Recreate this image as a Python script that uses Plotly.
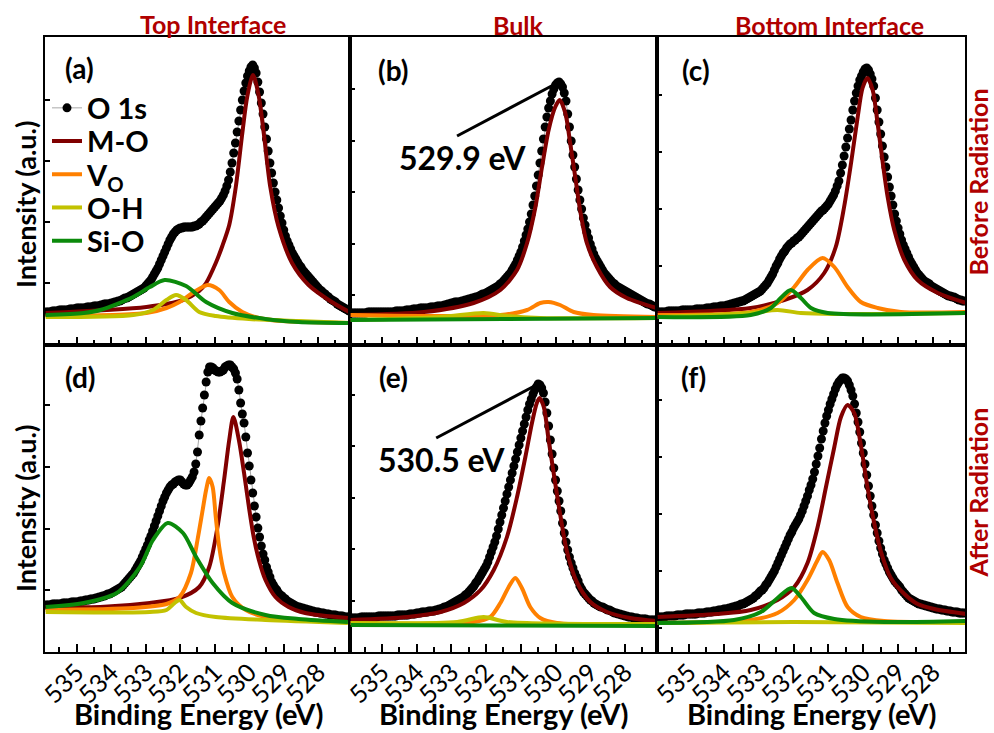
import numpy as np
import plotly.graph_objects as go

# ---------------------------------------------------------------------------
# Binding-energy grid of the measured O 1s spectra (eV), high -> low
BE_START, BE_STEP, N_PTS = 535.9, 0.05, 177
be = np.round(BE_START - BE_STEP * np.arange(N_PTS), 2)

# Measured O 1s intensity (a.u.) for each interface / radiation state
o1s_top_before = [
    31, 31, 31, 31, 32, 32, 32, 32, 33, 33, 33, 33, 33, 33, 34, 34, 34, 34, 35, 35,
    35, 35, 35, 35, 36, 36, 36, 36, 37, 37, 37, 37, 38, 38, 39, 39, 39, 39, 40, 40,
    41, 41, 42, 42, 43, 44, 45, 45, 46, 47, 48, 49, 50, 51, 52, 53, 54, 55, 57, 59,
    61, 63, 66, 69, 72, 75, 79, 83, 87, 91, 95, 99, 103, 106, 109, 111, 113, 114, 115, 115,
    116, 116, 116, 116, 116, 116, 117, 117, 118, 119, 121, 122, 124, 126, 128, 130, 132, 134, 136, 138,
    140, 142, 145, 148, 152, 157, 163, 171, 180, 190, 200, 211, 222, 233, 243, 252, 260, 267, 272, 276,
    278, 275, 270, 261, 251, 240, 229, 216, 204, 192, 180, 170, 160, 151, 143, 135, 127, 120, 113, 107,
    102, 98, 94, 90, 87, 84, 81, 78, 76, 73, 71, 69, 67, 65, 63, 61, 59, 57, 55, 53,
    52, 50, 49, 47, 46, 44, 43, 42, 41, 39, 38, 37, 36, 35, 34, 33, 32]
o1s_bulk_before = [
    30, 30, 30, 30, 30, 30, 30, 30, 30, 30, 31, 31, 31, 31, 31, 31, 31, 31, 31, 31,
    31, 31, 31, 31, 31, 31, 32, 32, 32, 32, 32, 32, 33, 33, 33, 33, 34, 34, 34, 34,
    35, 35, 35, 35, 35, 35, 36, 36, 36, 36, 37, 37, 37, 37, 38, 38, 39, 39, 40, 40,
    41, 41, 41, 41, 42, 42, 43, 43, 44, 44, 45, 45, 46, 46, 47, 48, 49, 49, 50, 51,
    52, 53, 54, 55, 56, 57, 59, 60, 62, 64, 66, 68, 70, 73, 76, 79, 83, 87, 91, 96,
    102, 108, 114, 121, 129, 138, 147, 157, 168, 180, 192, 204, 216, 226, 235, 242, 249, 254, 258, 260,
    261, 259, 256, 250, 242, 229, 216, 202, 188, 176, 164, 153, 143, 134, 125, 118, 111, 105, 99, 94,
    89, 85, 82, 79, 76, 73, 70, 68, 66, 64, 62, 60, 59, 57, 56, 55, 54, 53, 52, 51,
    50, 49, 48, 47, 46, 45, 44, 43, 42, 41, 40, 39, 39, 38, 37, 36, 36]
o1s_bottom_before = [
    31, 31, 31, 31, 31, 31, 32, 32, 32, 32, 32, 32, 32, 32, 33, 33, 33, 33, 33, 33,
    33, 33, 34, 34, 34, 34, 34, 34, 35, 35, 35, 35, 36, 36, 36, 36, 37, 37, 37, 37,
    38, 38, 39, 39, 40, 40, 41, 41, 42, 42, 43, 44, 45, 46, 47, 48, 49, 50, 51, 52,
    54, 56, 58, 60, 63, 66, 69, 73, 77, 80, 84, 87, 90, 92, 95, 97, 99, 100, 102, 103,
    105, 106, 108, 110, 112, 114, 116, 118, 120, 122, 124, 126, 128, 130, 132, 133, 135, 137, 139, 142,
    145, 148, 152, 157, 162, 170, 178, 187, 196, 205, 214, 223, 233, 242, 250, 257, 263, 267, 271, 274,
    275, 273, 269, 264, 257, 245, 233, 221, 209, 197, 186, 176, 166, 156, 147, 138, 129, 122, 115, 109,
    103, 98, 94, 90, 86, 82, 79, 76, 73, 70, 68, 66, 64, 62, 61, 60, 59, 57, 56, 55,
    54, 53, 52, 51, 50, 49, 48, 47, 47, 46, 46, 45, 44, 43, 43, 42, 42]
o1s_top_after = [
    47, 47, 47, 47, 48, 48, 48, 48, 48, 48,
    49, 49, 49, 49, 49, 50, 50, 50, 50, 50,
    51, 51, 51, 52, 52, 52, 53, 53, 53, 54,
    54, 55, 55, 56, 56, 57, 58, 58, 59, 60,
    61, 62, 63, 64, 65, 67, 69, 71, 73, 75,
    77, 79, 82, 85, 88, 91, 95, 99, 103, 107,
    112, 116, 121, 126, 131, 136, 141, 146, 151, 155,
    159, 162, 165, 167, 168, 170, 171, 172, 172, 170,
    168, 167, 167, 169, 172, 175, 180, 188, 200, 217,
    231, 244, 257, 270, 280, 285, 285, 284, 282, 281,
    280, 280, 281, 282, 285, 286, 287, 287, 285, 283,
    279, 273, 262, 249, 238, 229, 215, 199, 186, 172,
    159, 146, 135, 124, 115, 106, 98, 92, 85, 80,
    75, 70, 67, 64, 62, 59, 57, 56, 54, 53,
    51, 50, 49, 48, 47, 46, 45, 45, 44, 44,
    43, 43, 42, 42, 41, 41, 40, 40, 40, 39,
    39, 39, 38, 38, 38, 37, 37, 37, 37, 36,
    36, 36, 36, 35, 35, 35, 35]
o1s_bulk_after = [
    34, 34, 34, 34, 34, 34, 35, 35, 35, 35,
    35, 35, 35, 35, 35, 35, 36, 36, 36, 36,
    36, 36, 36, 36, 36, 36, 36, 37, 37, 37,
    37, 37, 37, 37, 38, 38, 38, 38, 39, 39,
    39, 40, 40, 40, 40, 41, 41, 41, 41, 42,
    42, 43, 43, 44, 45, 45, 46, 47, 48, 49,
    50, 51, 52, 53, 54, 55, 57, 58, 60, 62,
    64, 66, 69, 71, 74, 77, 80, 83, 86, 90,
    95, 100, 105, 110, 116, 123, 130, 137, 144, 151,
    158, 165, 172, 179, 186, 193, 200, 207, 214, 221,
    228, 235, 242, 248, 253, 258, 262, 265, 268, 267,
    264, 259, 250, 239, 226, 212, 198, 184, 172, 161,
    151, 141, 129, 119, 110, 102, 95, 89, 84, 79,
    75, 71, 66, 63, 60, 58, 56, 54, 52, 51,
    49, 48, 47, 46, 45, 45, 44, 43, 42, 42,
    41, 40, 39, 39, 38, 38, 37, 37, 36, 36,
    35, 35, 35, 34, 34, 34, 33, 33, 33, 33,
    33, 32, 32, 32, 32, 32, 32]
o1s_bottom_after = [
    35, 35, 35, 35, 35, 36, 36, 36, 36, 36,
    36, 37, 37, 37, 37, 37, 38, 38, 38, 38,
    38, 38, 38, 39, 39, 39, 39, 39, 40, 40,
    40, 40, 41, 41, 41, 42, 42, 42, 43, 43,
    43, 44, 44, 45, 45, 46, 46, 47, 48, 48,
    49, 50, 51, 52, 53, 54, 56, 57, 59, 61,
    62, 64, 67, 69, 72, 75, 78, 81, 85, 89,
    93, 97, 101, 105, 109, 113, 117, 120, 124, 127,
    130, 133, 137, 141, 146, 151, 156, 162, 167, 173,
    180, 188, 196, 204, 213, 221, 229, 236, 242, 248,
    253, 258, 263, 267, 270, 272, 274, 274, 273, 271,
    267, 262, 256, 248, 239, 230, 220, 209, 199, 188,
    177, 166, 156, 146, 137, 127, 119, 111, 104, 98,
    92, 88, 84, 80, 77, 74, 71, 69, 67, 65,
    62, 60, 58, 56, 54, 53, 52, 51, 50, 49,
    48, 48, 47, 47, 46, 46, 45, 45, 44, 44,
    43, 43, 43, 42, 42, 42, 41, 41, 41, 40,
    40, 40, 40, 39, 39, 39, 39]

# ---------------------------------------------------------------------------
# Fitted components: (binding energy, intensity) pairs per panel
# (a) top interface, before radiation
mo_a_be = [535.9, 532.98, 531.92, 531.45, 531.25, 530.97, 530.78, 530.58, 530.39, 530.20,
           530.06, 529.89, 529.72, 529.58, 529.39, 529.15, 528.76, 528.28, 527.61, 527.1]
mo_a = [30, 36, 43, 52, 60, 80, 97, 118, 156, 210, 246, 268, 246, 210, 156, 116, 80, 58, 41, 31]
vo_a_be = [535.9, 532.98, 532.40, 532.02, 531.64, 531.21, 530.87, 530.58, 530.20, 529.72, 529.05, 527.1]
vo_a = [27, 30, 35, 41, 50, 58, 53, 41, 31, 25, 22, 20]
oh_a_be = [535.9, 533.36, 532.79, 532.40, 532.12, 531.83, 531.45, 530.97, 530.01, 528.57, 527.1]
oh_a = [26, 28, 33, 43, 48, 43, 31, 27, 24, 22, 20]
sio_a_be = [535.9, 534.80, 534.32, 533.36, 532.88, 532.45, 531.83, 531.25, 530.49, 529.53, 528.57, 527.1]
sio_a = [28, 30, 33, 46, 56, 63, 57, 41, 30, 24, 21, 20]

# (b) bulk, before radiation
mo_b_be = [535.9, 533.79, 532.36, 531.59, 531.11, 530.82, 530.58, 530.39, 530.20, 530.01,
           529.88, 529.72, 529.58, 529.43, 529.29, 529.10, 528.81, 528.43, 527.95, 527.09]
mo_b = [28, 31, 40, 53, 73, 100, 136, 176, 213, 236, 243, 230, 200, 165, 132, 100, 76, 56, 45, 35]
vo_b_be = [535.9, 531.59, 530.82, 530.44, 530.20, 529.87, 529.48, 528.91, 527.09]
vo_b = [28, 28, 33, 40, 41, 38, 31, 28, 26]
oh_b_be = [535.9, 533.31, 532.07, 531.40, 530.44, 527.09]
oh_b = [23, 26, 30, 27, 25, 25]
sio_b_be = [535.9, 531.5, 527.09]
sio_b = [23, 24, 25]

# (c) bottom interface, before radiation
mo_c_be = [535.9, 533.23, 532.27, 531.60, 531.12, 530.79, 530.55, 530.35, 530.16, 530.02,
           529.88, 529.73, 529.59, 529.44, 529.30, 529.11, 528.82, 528.44, 527.86, 527.05]
mo_c = [30, 35, 43, 53, 70, 96, 136, 180, 226, 255, 265, 253, 220, 180, 146, 113, 83, 63, 50, 40]
vo_c_be = [535.9, 533.23, 532.46, 531.98, 531.60, 531.17, 530.83, 530.45, 530.07, 529.59, 528.92, 527.05]
vo_c = [28, 31, 40, 56, 73, 85, 76, 56, 41, 35, 31, 31]
oh_c_be = [535.9, 533.23, 532.46, 531.79, 530.83, 527.05]
oh_c = [26, 30, 33, 30, 29, 30]
sio_c_be = [535.9, 533.23, 532.65, 532.37, 532.08, 531.79, 531.50, 531.02, 527.05]
sio_c = [26, 28, 35, 45, 53, 45, 35, 30, 30]

# (d) top interface, after radiation
mo_d_be = [535.9, 534.32, 532.88, 532.02, 531.45, 531.16, 530.92, 530.73, 530.58, 530.46,
           530.30, 530.15, 530.01, 529.87, 529.72, 529.53, 529.24, 528.86, 528.38, 527.14]
mo_d = [45, 45, 49, 54, 65, 85, 125, 172, 212, 235, 212, 179, 145, 115, 92, 72, 55, 45, 39, 34]
vo_d_be = [535.9, 533.36, 532.40, 532.02, 531.69, 531.50, 531.35, 531.25, 531.16, 531.06,
           530.97, 530.87, 530.73, 530.49, 530.10, 529.53, 528.57, 527.14]
vo_d = [42, 44, 48, 55, 79, 112, 142, 162, 174, 165, 135, 105, 79, 55, 42, 35, 32, 30]
oh_d_be = [535.9, 532.88, 532.40, 532.16, 532.02, 531.83, 531.54, 530.97, 529.53, 527.14]
oh_d = [40, 40, 42, 49, 52, 45, 39, 35, 32, 29]
sio_d_be = [535.9, 534.80, 533.84, 533.17, 532.79, 532.36, 531.92, 531.54, 531.06, 530.49,
            529.53, 528.57, 527.14]
sio_d = [45, 49, 59, 85, 112, 129, 119, 95, 69, 49, 37, 33, 30]

# (e) bulk, after radiation
mo_e_be = [535.9, 534.27, 533.31, 532.64, 532.16, 531.78, 531.40, 531.11, 530.87, 530.68, 530.54,
           530.46, 530.34, 530.20, 530.06, 529.87, 529.67, 529.39, 529.00, 528.52, 527.85, 527.09]
mo_e = [32, 35, 40, 49, 62, 82, 115, 155, 195, 229, 249, 254, 245, 212, 180, 138, 100, 70, 50, 40, 34, 31]
vo_e_be = [535.9, 532.36, 531.88, 531.59, 531.35, 531.16, 530.97, 530.73, 530.44, 529.96, 527.09]
vo_e = [29, 30, 35, 49, 65, 74, 64, 45, 34, 29, 28]
oh_e_be = [535.9, 532.83, 532.07, 531.40, 527.09]
oh_e = [29, 30, 35, 30, 28]
sio_e_be = [535.9, 531.5, 527.09]
sio_e = [27, 26.5, 26]

# (f) bottom interface, after radiation
mo_f_be = [535.9, 534.19, 533.23, 532.46, 531.98, 531.60, 531.31, 531.07, 530.83, 530.64, 530.45,
           530.26, 530.07, 529.88, 529.68, 529.49, 529.21, 528.82, 528.44, 527.96, 527.05]
mo_f = [35, 38, 42, 52, 65, 89, 125, 165, 205, 235, 247, 239, 207, 165, 128, 100, 74, 58, 48, 43, 38]
vo_f_be = [535.9, 533.23, 532.46, 531.98, 531.60, 531.31, 531.17, 530.98, 530.74, 530.45, 530.07, 529.40, 527.05]
vo_f = [29, 32, 39, 52, 72, 92, 100, 92, 69, 45, 35, 31, 30]
oh_f_be = [535.9, 532.0, 527.05]
oh_f = [29, 30, 29]
sio_f_be = [535.9, 533.71, 532.94, 532.46, 532.06, 531.79, 531.41, 530.83, 529.40, 527.05]
sio_f = [29, 32, 40, 54, 64, 55, 39, 33, 30, 31]

# Axis labelling
column_titles = ["Top Interface", "Bulk", "Bottom Interface"]
row_titles = ["Before Radiation", "After Radiation"]
panel_tags = ["(a)", "(b)", "(c)", "(d)", "(e)", "(f)"]
be_ticks = [528, 529, 530, 531, 532, 533, 534, 535]

# ---------------------------------------------------------------------------
COLORS = {"M-O": "#800000", "V<sub>O</sub>": "#FF8000", "O-H": "#C2C200", "Si-O": "#0B8A0B"}
TITLE_RED = "#B00000"
FONT = "Lato"

panels = [
    dict(o1s=o1s_top_before, comps=[(mo_a_be, mo_a), (vo_a_be, vo_a), (oh_a_be, oh_a), (sio_a_be, sio_a)],
         ytick0=60, ydtick=61, nyt=4),
    dict(o1s=o1s_bulk_before, comps=[(mo_b_be, mo_b), (vo_b_be, vo_b), (oh_b_be, oh_b), (sio_b_be, sio_b)],
         ytick0=48, ydtick=51.5, nyt=5),
    dict(o1s=o1s_bottom_before, comps=[(mo_c_be, mo_c), (vo_c_be, vo_c), (oh_c_be, oh_c), (sio_c_be, sio_c)],
         ytick0=20, ydtick=57, nyt=5),
    dict(o1s=o1s_top_after, comps=[(mo_d_be, mo_d), (vo_d_be, vo_d), (oh_d_be, oh_d), (sio_d_be, sio_d)],
         ytick0=61.7, ydtick=61.7, nyt=4),
    dict(o1s=o1s_bulk_after, comps=[(mo_e_be, mo_e), (vo_e_be, vo_e), (oh_e_be, oh_e), (sio_e_be, sio_e)],
         ytick0=51.4, ydtick=51.4, nyt=5),
    dict(o1s=o1s_bottom_after, comps=[(mo_f_be, mo_f), (vo_f_be, vo_f), (oh_f_be, oh_f), (sio_f_be, sio_f)],
         ytick0=24, ydtick=57, nyt=5),
]

W, H = 994, 733
ML, MR, MT, MB = 45, 29, 37, 81
PW, PH = W - ML - MR, H - MT - MB
col_dom = [[0.0, 0.3315], [0.3315, 0.6652], [0.6652, 1.0]]
row_dom = [[0.5, 1.0], [0.0, 0.5]]
row_yrange = [[-1.5, 306], [0, 307.5]]


def paper(px, py):
    return (px - ML) / PW, 1 - (py - MT) / PH


# one small legend per entry so the rows can sit close together
legend_names = ["legend", "legend2", "legend3", "legend4", "legend5"]
LEG_FONT = dict(family=FONT, size=29, color="black", weight="bold")

fig = go.Figure()
layout = {}
for i, p in enumerate(panels):
    r, c = divmod(i, 3)
    k = "" if i == 0 else str(i + 1)
    xa, ya = "x" + k, "y" + k
    fig.add_trace(go.Scatter(
        x=be, y=p["o1s"], mode="lines+markers", name="O 1s", legend=legend_names[0],
        line=dict(color="#A8A8A8", width=1), marker=dict(color="black", size=9),
        showlegend=(i == 0), xaxis=xa, yaxis=ya))
    for j, ((cx, cy), (nm, col)) in enumerate(zip(p["comps"], COLORS.items())):
        fig.add_trace(go.Scatter(
            x=cx, y=cy, mode="lines", name=nm, legend=legend_names[j + 1],
            line=dict(color=col, width=4, shape="spline", smoothing=0.8),
            showlegend=(i == 0), xaxis=xa, yaxis=ya))

    layout["xaxis" + k] = dict(
        domain=col_dom[c], anchor=ya, range=[535.92, 527.08],
        showline=True, linecolor="black", linewidth=2, mirror=True,
        ticks="inside", ticklen=8, tickwidth=2, tickcolor="black",
        tickmode="array", tickvals=be_ticks, ticktext=[str(t) for t in be_ticks],
        minor=dict(dtick=0.5, tick0=527.5, ticks="inside", ticklen=5, tickwidth=2, tickcolor="black"),
        showticklabels=(r == 1), tickangle=-45, ticklabelstandoff=-6,
        tickfont=dict(family=FONT, size=25, color="black"),
        showgrid=False, zeroline=False)
    yt = [p["ytick0"] + j * p["ydtick"] for j in range(p["nyt"])]
    layout["yaxis" + k] = dict(
        domain=row_dom[r], anchor=xa, range=row_yrange[r],
        showline=True, linecolor="black", linewidth=2, mirror=True,
        ticks="inside", ticklen=5, tickwidth=2, tickcolor="black",
        tickmode="array", tickvals=yt, showticklabels=False,
        showgrid=False, zeroline=False)

# legends stacked inside panel (a)
for n, name in enumerate(legend_names):
    lx, ly = paper(47, 108 + 33.2 * n)
    layout[name] = dict(x=lx, y=ly, xanchor="left", yanchor="middle", bgcolor="rgba(0,0,0,0)",
                        font=LEG_FONT, itemwidth=30, borderwidth=0)

annotations = []
shapes = []
bold = dict(family=FONT, color="black", weight="bold")

# column headers
for title, (px, py) in zip(column_titles, [(213, 24), (518, 25), (829, 25)]):
    x, y = paper(px, py)
    annotations.append(dict(text=title, x=x, y=y, xref="paper", yref="paper", showarrow=False,
                            xanchor="center", yanchor="middle",
                            font=dict(family=FONT, size=25, color=TITLE_RED, weight="bold")))
# row headers on the right
for title, py in zip(row_titles, [182, 492]):
    x, y = paper(977.5, py)
    annotations.append(dict(text=title, x=x, y=y, xref="paper", yref="paper", showarrow=False,
                            textangle=-90, xanchor="center", yanchor="middle", borderpad=0,
                            font=dict(family=FONT, size=25, color=TITLE_RED, weight="bold")))
# y-axis titles
for py in [205, 509]:
    x, y = paper(25, py)
    annotations.append(dict(text="Intensity (a.u.)", x=x, y=y, xref="paper", yref="paper",
                            showarrow=False, textangle=-90, xanchor="center", yanchor="middle",
                            font=dict(size=27, **bold)))
# x-axis titles
for px in [199, 504, 812]:
    x, y = paper(px, 713)
    annotations.append(dict(text="Binding Energy (eV)", x=x, y=y, xref="paper", yref="paper",
                            showarrow=False, xanchor="center", yanchor="middle", borderpad=0,
                            font=dict(size=29, **bold)))
# panel tags
for tag, (px, py) in zip(panel_tags, [(79, 68), (393, 70), (696, 70), (80, 377), (393, 377), (693, 377)]):
    x, y = paper(px, py)
    annotations.append(dict(text=tag, x=x, y=y, xref="paper", yref="paper", showarrow=False,
                            xanchor="center", yanchor="middle", font=dict(size=28, **bold)))

# peak position markers in the bulk panels
for i in (1, 4):
    k = str(i + 1)
    y = np.asarray(panels[i]["o1s"])
    j = int(np.argmax(y))
    pe, ph = float(be[j]), float(y[j])
    shapes.append(dict(type="line", xref="x" + k, yref="y" + k,
                       xsizemode="pixel", ysizemode="pixel", xanchor=pe, yanchor=ph,
                       x0=-102, x1=0, y0=-54, y1=0, line=dict(color="black", width=3)))
    annotations.append(dict(x=pe, y=ph, xref="x" + k, yref="y" + k, text=f"{pe:.1f} eV",
                            showarrow=False, xshift=-97, yshift=-75,
                            xanchor="center", yanchor="middle", font=dict(size=32, **bold)))

fig.update_layout(
    width=W, height=H, margin=dict(l=ML, r=MR, t=MT, b=MB),
    paper_bgcolor="white", plot_bgcolor="white",
    showlegend=True,
    annotations=annotations,
    shapes=shapes,
    **layout,
)

fig.write_html("out.html")
